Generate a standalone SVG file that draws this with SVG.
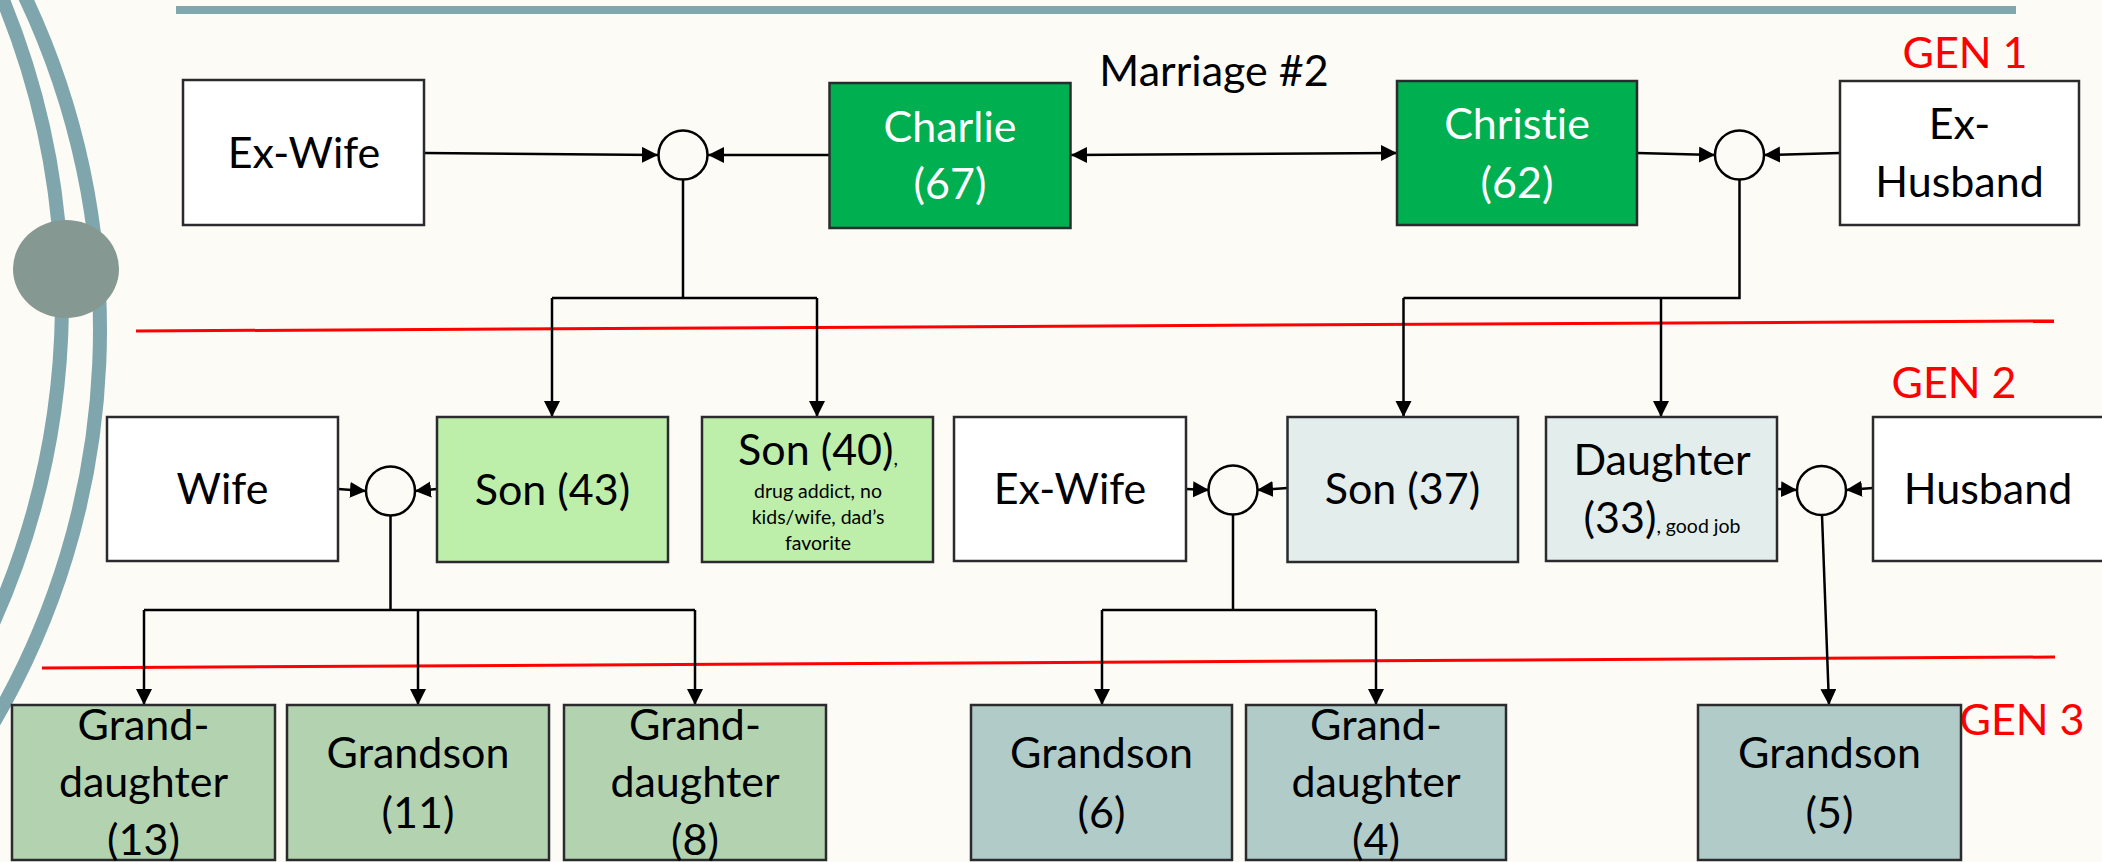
<svg xmlns="http://www.w3.org/2000/svg" width="2102" height="862" viewBox="0 0 2102 862">
<defs>
<style>
.bx{stroke:#2B2B2E;stroke-width:2.5}
.w{fill:#FFFFFF}
.g1{fill:#00B050}
.g2{fill:#BEEFAA}
.b2{fill:#E3EDEC}
.g3{fill:#B3D3B0}
.b3{fill:#B0CBC8}
.t{font-family:Lato,"Liberation Sans",sans-serif;font-size:43px;fill:#000;text-anchor:middle;font-variant-ligatures:none}
.tw{fill:#FFFFFF}
.s{font-size:19.5px}
.red{font-family:Lato,"Liberation Sans",sans-serif;font-size:43px;fill:#FF0000;text-anchor:middle}
.ln{fill:none;stroke:#000;stroke-width:2.5}
.ar{marker-end:url(#ah)}
.cc{fill:#FCFBF6;stroke:#000;stroke-width:2.5}
</style>
<marker id="ah" markerUnits="userSpaceOnUse" markerWidth="17" markerHeight="17" refX="16" refY="8" orient="auto-start-reverse">
<path d="M0,0 L16,8 L0,16 z" fill="#000"/>
</marker>
</defs>
<rect x="0" y="0" width="2102" height="862" fill="#FCFBF6"/>
<g id="decor">
<path d="M-1.2,-10 A792,792 0 0 1 -10,630" fill="none" stroke="#7EA6AC" stroke-width="14"/>
<path d="M21.7,-10 A777.6,777.6 0 0 1 -10,728.7" fill="none" stroke="#7EA6AC" stroke-width="14"/>
<ellipse cx="66" cy="269" rx="53" ry="49" fill="#859891"/>
<rect x="176" y="6" width="1840" height="8" fill="#7FA7AD"/>
<path d="M136,331 L2054,321" stroke="#FF0000" stroke-width="3" fill="none"/>
<path d="M42,668 L2055,657" stroke="#FF0000" stroke-width="3" fill="none"/>
</g>
<g id="labels">
<text class="t" x="1214" y="86">Marriage #2</text>
<text class="red" x="1965" y="68">GEN 1</text>
<text class="red" x="1954" y="398">GEN 2</text>
<text class="red" x="2022" y="735">GEN 3</text>
</g>
<g id="connectors">
<path class="ln ar" d="M424,153 L658,155"/>
<path class="ln ar" d="M829.5,155 L708,155"/>
<path class="ln ar" d="M1071,155 L1397,153" marker-start="url(#ah)"/>
<path class="ln ar" d="M1637,153 L1715,155"/>
<path class="ln ar" d="M1840,153 L1764,155"/>
<path class="ln" d="M683,179 V298 M552,298 H817"/>
<path class="ln ar" d="M552,298 V417"/>
<path class="ln ar" d="M817,298 V417"/>
<path class="ln" d="M1739.5,179 V298 H1403.5"/>
<path class="ln ar" d="M1403.5,298 V417"/>
<path class="ln ar" d="M1661,298 V417"/>
<path class="ln ar" d="M338,489 L366,491"/>
<path class="ln ar" d="M437,489 L415,491"/>
<path class="ln" d="M390.5,515 V610 M144,610 H695"/>
<path class="ln ar" d="M144,610 V705"/>
<path class="ln ar" d="M418,610 V705"/>
<path class="ln ar" d="M695,610 V705"/>
<path class="ln ar" d="M1186,489 L1209,490"/>
<path class="ln ar" d="M1287.5,488 L1257,490"/>
<path class="ln" d="M1233,514 V610 M1102,610 H1376"/>
<path class="ln ar" d="M1102,610 V705"/>
<path class="ln ar" d="M1376,610 V705"/>
<path class="ln ar" d="M1777,489 L1797,490"/>
<path class="ln ar" d="M1873,488 L1846,490"/>
<path class="ln ar" d="M1822,515 L1829,705" stroke-width="2"/>
</g>
<g id="union1"><ellipse class="cc" cx="683" cy="155" rx="24.5" ry="24.5"/></g>
<g id="union2"><ellipse class="cc" cx="1739.5" cy="155" rx="24.5" ry="24.5"/></g>
<g id="union3"><ellipse class="cc" cx="390.5" cy="491" rx="24.5" ry="24.5"/></g>
<g id="union4"><ellipse class="cc" cx="1233" cy="490" rx="24.5" ry="24.5"/></g>
<g id="union5"><ellipse class="cc" cx="1821.5" cy="490.5" rx="24.5" ry="24.5"/></g>
<g id="exwife1"><rect class="bx w" x="183" y="80" width="241" height="145"/><text class="t" x="304" y="168">Ex-Wife</text></g>
<g id="charlie"><rect class="bx g1" x="829.5" y="83" width="241" height="145"/><text class="t tw" x="950" y="142">Charlie</text><text class="t tw" x="950" y="199">(67)</text></g>
<g id="christie"><rect class="bx g1" x="1397" y="81" width="240" height="144"/><text class="t tw" x="1517" y="139">Christie</text><text class="t tw" x="1517" y="198">(62)</text></g>
<g id="exhusband"><rect class="bx w" x="1840" y="81" width="239" height="144"/><text class="t" x="1959.5" y="139">Ex-</text><text class="t" x="1959.5" y="197">Husband</text></g>
<g id="wife"><rect class="bx w" x="107" y="417" width="231" height="144"/><text class="t" x="222.5" y="504">Wife</text></g>
<g id="son43"><rect class="bx g2" x="437" y="417" width="231" height="145"/><text class="t" x="552.5" y="505">Son (43)</text></g>
<g id="son40"><rect class="bx g2" x="702" y="417" width="231" height="145"/><text class="t" x="818" y="465">Son (40)<tspan class="s">,</tspan></text><text class="t s" x="818" y="498">drug addict, no</text><text class="t s" x="818" y="524">kids/wife, dad’s</text><text class="t s" x="818" y="550">favorite</text></g>
<g id="exwife2"><rect class="bx w" x="954" y="417" width="232" height="144"/><text class="t" x="1070" y="504">Ex-Wife</text></g>
<g id="son37"><rect class="bx b2" x="1287.5" y="417" width="230.5" height="145"/><text class="t" x="1402.5" y="504">Son (37)</text></g>
<g id="daughter"><rect class="bx b2" x="1546" y="417" width="231" height="144"/><text class="t" x="1662" y="475">Daughter</text><text class="t" x="1662" y="533">(33)<tspan class="s">, good job</tspan></text></g>
<g id="husband"><rect class="bx w" x="1873" y="417" width="240" height="144"/><text class="t" x="1988" y="504">Husband</text></g>
<g id="gd13"><rect class="bx g3" x="12" y="705" width="263" height="155"/><text class="t" x="143.5" y="740">Grand-</text><text class="t" x="143.5" y="797">daughter</text><text class="t" x="143.5" y="855">(13)</text></g>
<g id="gs11"><rect class="bx g3" x="287" y="705" width="262" height="155"/><text class="t" x="418" y="768">Grandson</text><text class="t" x="418" y="828">(11)</text></g>
<g id="gd8"><rect class="bx g3" x="564" y="705" width="262" height="155"/><text class="t" x="695" y="740">Grand-</text><text class="t" x="695" y="797">daughter</text><text class="t" x="695" y="855">(8)</text></g>
<g id="gs6"><rect class="bx b3" x="971" y="705" width="261" height="155"/><text class="t" x="1101.5" y="768">Grandson</text><text class="t" x="1101.5" y="828">(6)</text></g>
<g id="gd4"><rect class="bx b3" x="1246" y="705" width="260" height="155"/><text class="t" x="1376" y="740">Grand-</text><text class="t" x="1376" y="797">daughter</text><text class="t" x="1376" y="855">(4)</text></g>
<g id="gs5"><rect class="bx b3" x="1698" y="705" width="263" height="155"/><text class="t" x="1829.5" y="768">Grandson</text><text class="t" x="1829.5" y="828">(5)</text></g>
</svg>
